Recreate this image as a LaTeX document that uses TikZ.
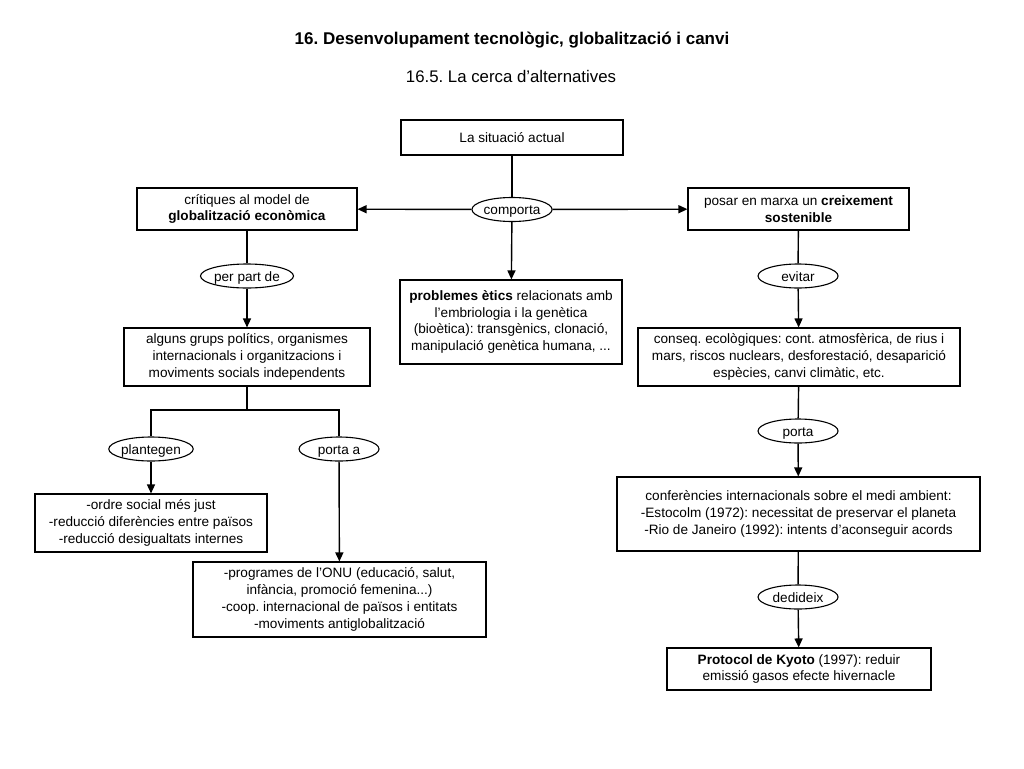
\documentclass[tikz,border=0pt]{standalone}
\usepackage{fontspec}
\setmainfont{Liberation Sans}
\usetikzlibrary{shapes.geometric,arrows.meta}
\begin{document}
\frenchspacing
\begin{tikzpicture}[x=1pt,y=-1pt,
  box/.style={draw,line width=1.1pt,inner sep=0pt,align=center,font=\fontsize{13.6}{16.8}\selectfont},
  lab/.style={draw,ellipse,line width=1.1pt,inner sep=0pt,minimum width=80pt,minimum height=24pt,text height=10.5pt,text depth=0pt,font=\fontsize{13.6}{16}\selectfont},
  conn/.style={line width=1.4pt},
  arr/.style={line width=1.4pt,-{Triangle[length=9pt,width=8pt]}}]
\useasboundingbox (0,0) rectangle (1024,768);
\node (title) at (512,40) {\fontsize{17}{20}\selectfont\bfseries 16. Desenvolupament tecnològic, globalització i canvi};
\node (subtitle) at (511,76) {\fontsize{16.8}{20}\selectfont 16.5. La cerca d’alternatives};

\node[box,minimum width=222pt,minimum height=35pt] (sit) at (512,137.5) {La situació actual};
\node[box,minimum width=220pt,minimum height=42pt] (crit) at (247,209) {crítiques al model de\\\textbf{globalització econòmica}};
\node[box,minimum width=221pt,minimum height=42pt] (creix) at (798.5,209) {posar en marxa un \textbf{creixement}\\\textbf{sostenible}};
\node[lab] (comp) at (512,209.5) {comporta};
\node[box,minimum width=222pt,minimum height=84pt] (prob) at (511,322) {\textbf{problemes ètics} relacionats amb\\l’embriologia i la genètica\\(bioètica): transgènics, clonació,\\manipulació genètica humana, ...};
\node[lab] (ppd) at (247,276) {per part de};
\node[box,minimum width=246pt,minimum height=58pt] (alg) at (247,357) {alguns grups polítics, organismes\\internacionals i organitzacions i\\moviments socials independents};
\node[lab] (evit) at (798,276) {evitar};
\node[box,minimum width=322pt,minimum height=58pt] (cons) at (799,357) {conseq. ecològiques: cont. atmosfèrica, de rius i\\mars, riscos nuclears, desforestació, desaparició\\espècies, canvi climàtic, etc.};
\coordinate (br) at (247,410);
\node[lab] (plan) at (151,449) {plantegen};
\node[lab] (porta) at (339,449) {porta a};
\node[box,minimum width=232pt,minimum height=58pt] (ordre) at (151,523) {-ordre social més just\\-reducció diferències entre països\\-reducció desigualtats internes};
\node[box,minimum width=293pt,minimum height=75pt] (prog) at (339.5,599.5) {-programes de l’ONU (educació, salut,\\infància, promoció femenina...)\\-coop. internacional de països i entitats\\-moviments antiglobalització};
\node[lab] (port2) at (798,431) {porta};
\node[box,minimum width=363pt,minimum height=74pt] (conf) at (798.5,514) {conferències internacionals sobre el medi ambient:\\-Estocolm (1972): necessitat de preservar el planeta\\-Rio de Janeiro (1992): intents d’aconseguir acords};
\node[lab] (ded) at (798,597) {dedideix};
\node[box,minimum width=264pt,minimum height=42pt] (kyo) at (799,669) {\textbf{Protocol de Kyoto} (1997): reduir\\emissió gasos efecte hivernacle};

\draw[conn] (sit) -- (comp);
\draw[arr] (comp) -- (crit);
\draw[arr] (comp) -- (creix);
\draw[arr] (comp) -- (prob);
\draw[conn] (crit) -- (ppd);
\draw[arr] (ppd) -- (alg);
\draw[conn] (creix) -- (evit);
\draw[arr] (evit) -- (cons);
\draw[conn] (alg) -- (br);
\draw[conn] (br) -| (plan);
\draw[conn] (br) -| (porta);
\draw[arr] (plan) -- (ordre);
\draw[arr] (porta) -- (prog);
\draw[conn] (cons) -- (port2);
\draw[arr] (port2) -- (conf);
\draw[conn] (conf) -- (ded);
\draw[arr] (ded) -- (kyo);
\end{tikzpicture}
\end{document}
